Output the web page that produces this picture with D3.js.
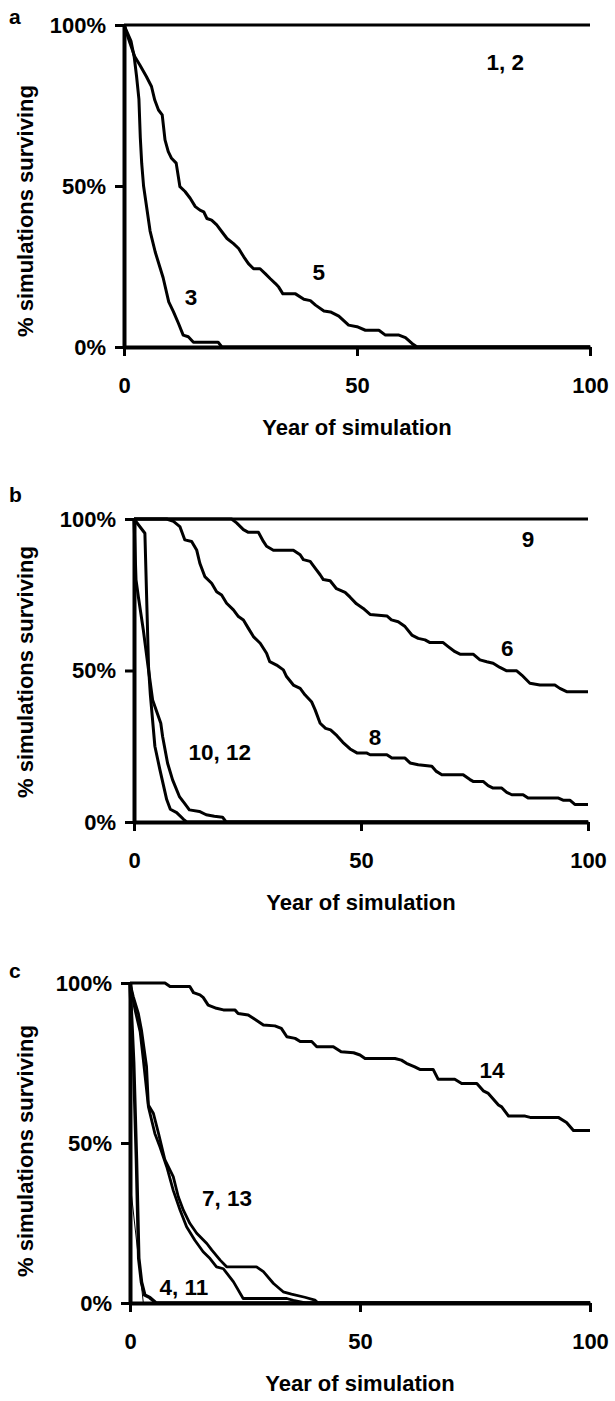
<!DOCTYPE html>
<html>
<head>
<meta charset="utf-8">
<script src="https://cdn.jsdelivr.net/npm/d3@7"></script>
<style>
  body { margin: 0; background: #fff; }
  text { font-family: 'Liberation Sans', Arial, sans-serif; font-weight: bold; fill: #000; }
</style>
</head>
<body>
<svg></svg>
<script>
// tick values shared by all three panels
const yearTicks = [0, 50, 100];
const pctTicks = [0, 50, 100];

// panel a  ([year, % surviving])
const s1and2 = [[0, 100], [100, 100]];
const s3 = [[0, 100], [1.5, 95], [2.2, 90], [2.7, 84], [3.2, 77], [3.5, 65], [3.8, 57], [4.2, 50], [4.8, 44],
  [5.6, 36], [6.7, 29.5], [8.4, 21.5], [9.6, 14], [10.6, 11], [11.7, 7.3], [12.7, 3.7], [13.8, 3.2],
  [14.9, 1.5], [20.2, 1.5], [21, 0], [100, 0]];
const s5 = [[0, 100], [1.3, 94.3], [2.3, 90.2], [3.4, 87.6], [4.8, 84], [5.9, 80.9], [6.6, 76.7], [7.4, 73.6],
  [8.2, 72.1], [8.8, 64.3], [9.5, 60.7], [10.2, 58.6], [11.2, 57.1], [12, 49.8], [13.1, 48.3], [14.2, 46.2],
  [15.3, 43.6], [16.3, 42.5], [17.1, 42], [17.8, 39.9], [18.8, 39.4], [19.9, 37.9], [21, 35.8], [22.1, 33.7],
  [23.5, 32.1], [24.6, 30.6], [25.7, 28], [26.7, 25.9], [27.8, 24.3], [29.2, 24.3], [30.3, 22.8], [31.4, 21.2],
  [32.5, 19.7], [33.2, 18.6], [34.1, 16.5], [36.8, 16.5], [38.6, 14.8], [40, 14.4], [41.1, 13], [42.9, 11.2],
  [44.3, 10.9], [46.1, 9.6], [48.2, 6.8], [50, 6.3], [51.8, 5.2], [54.7, 5.2], [56.1, 3.7], [59, 3.7],
  [60.4, 2.9], [61.8, 1.1], [62.9, 0], [100, 0]];

// panel b
const s9 = [[0, 100], [100, 100]];
const s6 = [[0, 100], [21.5, 100], [22.6, 98.7], [24.1, 96.5], [25.2, 95.6], [27.4, 95.6], [28.5, 92.6],
  [29.2, 91], [30.7, 89.7], [35.1, 89.7], [36.6, 88.2], [37.3, 86.6], [38.8, 86], [39.9, 83.8], [41, 81.6],
  [41.7, 80], [43.2, 79.6], [44.6, 77], [46.5, 75.8], [47.6, 74.2], [49, 72], [50.5, 70.5], [52, 68.5],
  [55.7, 68], [56.7, 66.7], [58.2, 66.1], [59.7, 64.5], [61.2, 61.7], [62.6, 60.6], [64.1, 60.1], [65.2, 59.2],
  [68.1, 59.2], [69.2, 57.9], [70.7, 56.2], [71.8, 55.4], [74.7, 55.4], [76.2, 53.5], [77.7, 52.9], [79.1, 52.4],
  [80.6, 51], [82.1, 49.9], [84.3, 49.9], [85.4, 48.5], [87.2, 45.8], [89.4, 45.2], [92.7, 45.2], [93.8, 44.1],
  [95.3, 43], [100, 43]];
const s8 = [[0, 100], [7.2, 100], [8.7, 99.2], [10.1, 97.5], [11.2, 93.1], [12.7, 92.6], [13.8, 89.8],
  [14.5, 85.4], [15.6, 81], [17.1, 78.8], [18.2, 76], [19.3, 74.9], [20.4, 72.2], [21.9, 70], [23, 67.8],
  [24.1, 66.7], [25.2, 63.9], [26.3, 61.2], [27.8, 59], [29.2, 55.7], [29.9, 52.9], [31.4, 51.8], [32.9, 50.2],
  [33.6, 48], [35.1, 45.2], [36.6, 44.1], [37.7, 41.9], [39.1, 39.7], [39.9, 37], [41, 32.6], [42.2, 30.9],
  [43.3, 30.4], [44.7, 28.5], [46, 26.3], [47.6, 24.1], [49.1, 22.8], [51.2, 22.8], [52, 22.2], [55.7, 22.2],
  [56.8, 21.1], [59.7, 21.1], [60.8, 19.5], [62.6, 18.9], [65.6, 18.4], [66.6, 16.7], [67.8, 15.6], [72.5, 15.6],
  [74, 14], [74.7, 13.4], [76.9, 13.4], [78, 12], [79.1, 11.2], [81, 11.2], [82.1, 9.8], [83.2, 9], [85.7, 9],
  [86.8, 7.9], [93.5, 7.9], [94.5, 7.2], [96, 7.2], [97.1, 5.8], [100, 5.8]];
const s10 = [[0, 100], [0.44, 80], [0.95, 74.4], [2.05, 63.4], [3.1, 51.3], [4.1, 40.3], [5.9, 32.6],
  [6.3, 28.2], [7.4, 19.4], [8.5, 13.9], [10, 8.4], [11.1, 6.2], [12.2, 4], [14.4, 3.5], [15.9, 2.4],
  [17.7, 1.9], [19.5, 1.6], [20.3, 0], [100, 0]];
const s12 = [[0, 100], [2.4, 95.3], [3.2, 51.3], [3.6, 42], [4.6, 25], [5.7, 17.3], [7.2, 7.4], [8, 4.2],
  [9.4, 3.1], [10.9, 0.9], [11.6, 0], [100, 0]];

// panel c
const s14 = [[0, 100], [7.6, 100], [8.7, 98.9], [13, 98.9], [13.8, 97], [15.2, 96.3], [15.9, 95.5], [17, 93.1],
  [18.8, 92.1], [20.3, 91.6], [22.8, 91.6], [23.5, 90.5], [25.7, 90], [26.8, 89], [29, 86.9], [31.5, 86.6],
  [32.9, 85.8], [34.1, 83.2], [35.9, 82.7], [37, 81.7], [39.5, 81.7], [40.6, 80.1], [44.2, 80.1], [45.9, 78.5],
  [48.6, 78.2], [50, 77.5], [51.1, 76.4], [57.6, 76.4], [59, 75.9], [60.1, 74.9], [61.9, 73.8], [63, 73],
  [65.9, 73], [67, 69.9], [70.6, 69.9], [72.1, 68.6], [75.4, 68.6], [76.8, 66.3], [77.9, 65.5], [80.1, 61.9],
  [80.8, 61.3], [82.3, 58.4], [85.9, 58.4], [87, 58], [93.1, 58], [94.9, 56.4], [96.4, 53.9], [100, 53.9]];
const s7 = [[0, 100], [1.1, 91.6], [2.2, 84.8], [2.9, 75.9], [4, 61.3], [5.4, 53], [6.5, 48.8], [8, 42.5],
  [9.4, 35.2], [10.9, 29], [12.3, 23.8], [14.1, 19.6], [15.9, 16], [17.4, 13.9], [18.8, 11.3], [20.3, 10.7],
  [22.5, 6.6], [24.6, 1.4], [34.1, 1.4], [35.5, 0.8], [38.4, 0], [100, 0]];
const s13 = [[0, 100], [0.7, 95.8], [1.8, 90.6], [2.5, 85.3], [3.6, 73.9], [4, 61.9], [5.1, 59.2], [6.2, 53],
  [7.6, 44.7], [9.4, 39.5], [10.5, 33.2], [11.6, 29], [13, 24.9], [14.5, 21.8], [16.7, 18.6], [17.8, 16.5],
  [19.6, 13.4], [21, 11.3], [27.5, 11.3], [29, 9.8], [31.2, 6.1], [33.3, 3.5], [35.1, 2.8], [38, 1.8],
  [40.2, 0.9], [40.9, 0], [100, 0]];
const s4 = [[0, 100], [0.8, 75], [1.4, 45], [1.9, 14], [2.5, 6.5], [3.2, 2.5], [4.3, 1.7], [5.7, 0], [100, 0]];
const s11 = [[0, 100], [0, 38], [2.9, 0], [100, 0]];

// curve labels: [text, year, %]
const labelsA = [['1, 2', 81.8, 86], ['3', 14.4, 13], ['5', 41.8, 20.8]];
const labelsB = [['9', 86.8, 90.8], ['6', 82.2, 54.8], ['8', 53.1, 25.4], ['10, 12', 18.9, 20.5]];
const labelsC = [['14', 78.7, 70.3], ['7, 13', 21.1, 30.3], ['4, 11', 11.7, 2.5]];

const panels = [
  {letter: 'a', left: 124, right: 590, top: 25, bottom: 347, titleY: 211, letterY: 24,
    series: [[s1and2, 3], [s3, 3], [s5, 3]], labels: labelsA},
  {letter: 'b', left: 134, right: 588, top: 519, bottom: 822, titleY: 672, letterY: 502,
    series: [[s9, 3], [s6, 3], [s8, 3], [s10, 3], [s12, 3]], labels: labelsB},
  {letter: 'c', left: 130, right: 590, top: 983, bottom: 1303, titleY: 1151, letterY: 978,
    series: [[s14, 3], [s7, 2.8], [s13, 2.8], [s4, 3.5], [s11, 1]], labels: labelsC}
];

const svg = d3.select('svg')
  .attr('width', 615)
  .attr('height', 1401);

const styleAxis = sel => sel
  .attr('font-family', "'Liberation Sans', Arial, sans-serif")
  .attr('font-size', 22)
  .attr('font-weight', 'bold');

panels.forEach(p => {
  const x = d3.scaleLinear().domain([0, 100]).range([p.left, p.right]);
  const y = d3.scaleLinear().domain([0, 100]).range([p.bottom, p.top]);
  const g = svg.append('g');

  const line = d3.line().x(d => x(d[0])).y(d => y(d[1]));

  g.selectAll('path.curve').data(p.series)
    .enter().append('path')
    .attr('class', 'curve')
    .attr('d', d => line(d[0]))
    .attr('fill', 'none')
    .attr('stroke', '#000')
    .attr('stroke-width', d => d[1])
    .attr('stroke-linejoin', 'round');

  // x axis
  const xa = g.append('g')
    .attr('transform', `translate(0, ${p.bottom})`)
    .call(d3.axisBottom(x).tickValues(yearTicks).tickSize(9).tickSizeOuter(0))
    .call(styleAxis);
  xa.select('.domain').attr('stroke-width', 4);
  xa.selectAll('.tick line').attr('stroke-width', 3);
  xa.selectAll('.tick text').attr('y', 46).attr('dy', 0);

  // y axis
  const ya = g.append('g')
    .attr('transform', `translate(${p.left}, 0)`)
    .call(d3.axisLeft(y).tickValues(pctTicks).tickSize(9).tickSizeOuter(0).tickFormat(d => d + '%'))
    .call(styleAxis);
  ya.select('.domain').attr('stroke-width', 4);
  ya.selectAll('.tick line').attr('stroke-width', 3);
  ya.selectAll('.tick text').attr('x', -18).attr('dy', '0.34em');

  g.append('text')
    .attr('x', (p.left + p.right) / 2)
    .attr('y', p.bottom + 88)
    .attr('text-anchor', 'middle')
    .attr('font-size', 22)
    .text('Year of simulation');

  g.append('text')
    .attr('transform', `translate(33, ${p.titleY}) rotate(-90)`)
    .attr('text-anchor', 'middle')
    .attr('font-size', 22)
    .text('% simulations surviving');

  g.append('text')
    .attr('x', 9)
    .attr('y', p.letterY)
    .attr('font-size', 21)
    .text(p.letter);

  g.selectAll('text.lab').data(p.labels)
    .enter().append('text')
    .attr('class', 'lab')
    .attr('x', d => x(d[1]))
    .attr('y', d => y(d[2]))
    .attr('text-anchor', 'middle')
    .attr('font-size', 22.5)
    .text(d => d[0]);
});
</script>
</body>
</html>
